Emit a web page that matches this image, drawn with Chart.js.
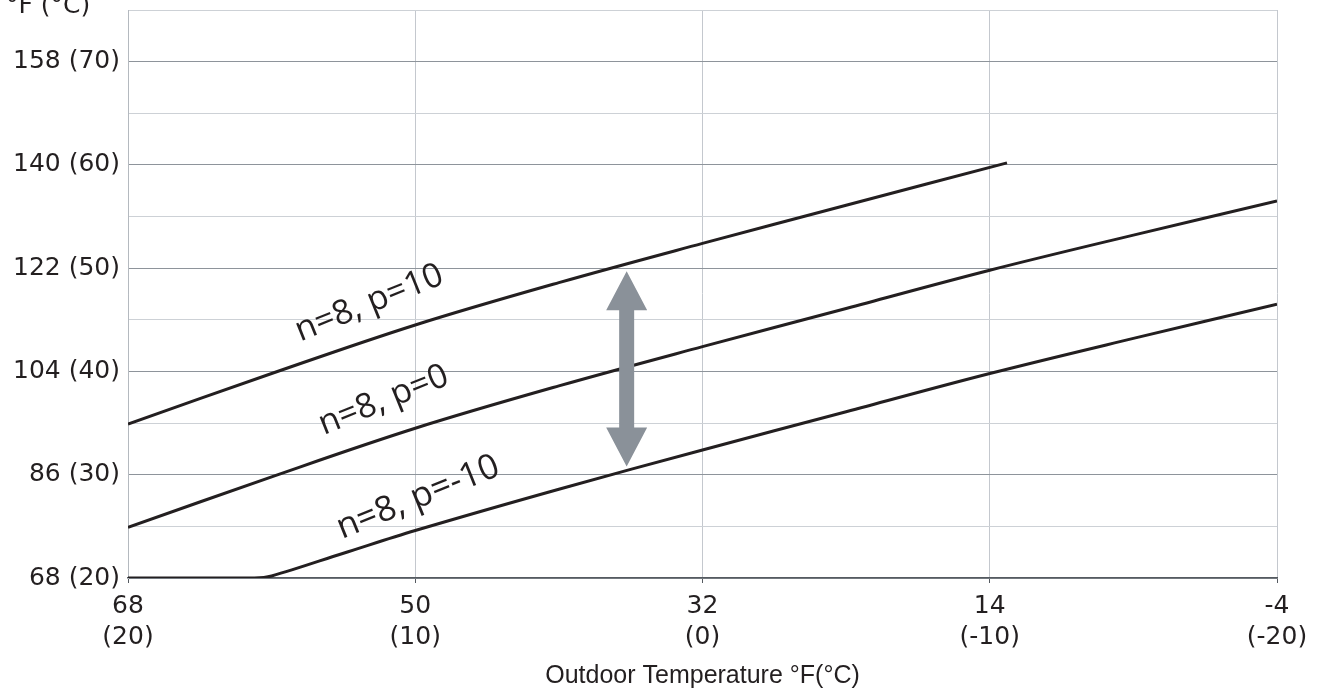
<!DOCTYPE html>
<html><head><meta charset="utf-8">
<script src="https://cdn.jsdelivr.net/npm/chart.js@4/dist/chart.umd.min.js"></script>
<style>html,body{margin:0;padding:0;background:#fff}#wrap{width:1322px;height:692px;position:relative}</style>
</head><body><div id="wrap"><canvas id="c"></canvas></div>
<script>
// Heating curves: outdoor temperature (°C) vs flow temperature (°C)
const outdoorP10 = [20, 15, 10, 5, 0, -5, -10.6];
const flowP10    = [34.9, 39.8, 44.5, 48.6, 52.4, 56.1, 60.2];
const outdoorP0  = [20, 15, 10, 5, 0, -5, -10, -15, -20];
const flowP0     = [24.9, 29.8, 34.5, 38.6, 42.4, 46.1, 49.8, 53.2, 56.5];
const outdoorPm10 = [20, 15.6, 15, 12.5, 10, 5, 0, -5, -10, -15, -20];
const flowPm10    = [20, 20, 20.2, 22.4, 24.6, 28.6, 32.4, 36.1, 39.8, 43.2, 46.5];

const xTickValues = [20, 10, 0, -10, -20];
const xTickF = ['68', '50', '32', '14', '-4'];
const xTickC = ['(20)', '(10)', '(0)', '(-10)', '(-20)'];
const yTickValues = [20, 30, 40, 50, 60, 70];
const yTickLabels = ['68 (20)', '86 (30)', '104 (40)', '122 (50)', '140 (60)', '158 (70)'];

const curveLabels = ['n=8, p=10', 'n=8, p=0', 'n=8, p=-10'];
const curveLabelX = [11.6, 11.1, 9.9];
const curveLabelY = [46.6, 37.2, 27.8];
const arrowX = 2.64, arrowTop = 49.7, arrowBottom = 30.8;

const yTitle = '°F (°C)';
const xTitle = 'Outdoor Temperature °F(°C)';

const pts = (xs, ys) => xs.map((x, i) => ({x: x, y: ys[i]}));
const ink = '#231f20';
const tickFont = {family: 'DejaVu Sans', size: 25, lineHeight: 1.24};

const annot = {
  id: 'annot',
  afterDatasetsDraw(chart) {
    const {ctx, scales: {x, y}} = chart;
    ctx.save();
    ctx.fillStyle = ink;
    ctx.textAlign = 'center';
    ctx.textBaseline = 'middle';
    curveLabels.forEach((t, i) => {
      ctx.save();
      ctx.font = (i === 2 ? '35px' : '34px') + ' "Open Sans"';
      ctx.translate(x.getPixelForValue(curveLabelX[i]), y.getPixelForValue(curveLabelY[i]));
      ctx.rotate(-22 * Math.PI / 180);
      ctx.fillText(t, 0, 0);
      ctx.restore();
    });
    const ax = x.getPixelForValue(arrowX);
    const t = y.getPixelForValue(arrowTop), b = y.getPixelForValue(arrowBottom);
    const hw = 20.5, hh = 39, sw = 7.5;
    ctx.fillStyle = '#8a9199';
    ctx.beginPath();
    ctx.moveTo(ax, t);
    ctx.lineTo(ax + hw, t + hh);
    ctx.lineTo(ax + sw, t + hh);
    ctx.lineTo(ax + sw, b - hh);
    ctx.lineTo(ax + hw, b - hh);
    ctx.lineTo(ax, b);
    ctx.lineTo(ax - hw, b - hh);
    ctx.lineTo(ax - sw, b - hh);
    ctx.lineTo(ax - sw, t + hh);
    ctx.lineTo(ax - hw, t + hh);
    ctx.closePath();
    ctx.fill();
    ctx.fillStyle = ink;
    ctx.font = '25px "DejaVu Sans"';
    ctx.textAlign = 'left';
    ctx.textBaseline = 'alphabetic';
    ctx.fillText(yTitle, 6, 13);
    ctx.restore();
  }
};

const lineStyle = {borderColor: ink, borderWidth: 3, pointRadius: 0, fill: false, tension: 0.35};

new Chart(document.getElementById('c'), {
  type: 'line',
  data: {
    datasets: [
      Object.assign({label: curveLabels[0], data: pts(outdoorP10, flowP10)}, lineStyle),
      Object.assign({label: curveLabels[1], data: pts(outdoorP0, flowP0)}, lineStyle),
      Object.assign({label: curveLabels[2], data: pts(outdoorPm10, flowPm10)}, lineStyle)
    ]
  },
  options: {
    responsive: true,
    maintainAspectRatio: false,
    animation: false,
    events: [],
    layout: {padding: {top: 10, right: 45, left: 0, bottom: 0}},
    plugins: {legend: {display: false}, tooltip: {enabled: false}},
    scales: {
      x: {
        type: 'linear', min: -20, max: 20, reverse: true,
        afterBuildTicks: s => { s.ticks = xTickValues.map(v => ({value: v})); },
        afterFit: s => { s.height = 114; s.paddingLeft = 0; s.paddingRight = 0; },
        grid: {color: '#c4c8ce', lineWidth: 1, tickLength: 5, tickColor: '#555a60'},
        border: {color: '#555a60', width: 1.5},
        ticks: {
          color: ink, font: tickFont, padding: 8, maxRotation: 0, autoSkip: false,
          callback: v => { const i = xTickValues.indexOf(v); return i < 0 ? '' : [xTickF[i], xTickC[i]]; }
        },
        title: {display: true, text: xTitle, color: ink, font: {family: 'Liberation Sans', size: 25, lineHeight: 1.2}, padding: {top: 0, bottom: 1}}
      },
      y: {
        type: 'linear', min: 20, max: 75,
        afterFit: s => { s.width = 128; s.paddingTop = 0; s.paddingBottom = 0; },
        grid: {
          drawTicks: false,
          color: c => (c.tick && c.tick.value % 10 === 0) ? '#8e949b' : '#cdd1d6',
          lineWidth: 1
        },
        border: {color: '#b4b9bf', width: 1},
        ticks: {
          stepSize: 5, color: ink, font: tickFont, padding: 8,
          callback: v => { const i = yTickValues.indexOf(v); return i < 0 ? '' : yTickLabels[i]; }
        }
      }
    }
  },
  plugins: [annot]
});
</script></body></html>
